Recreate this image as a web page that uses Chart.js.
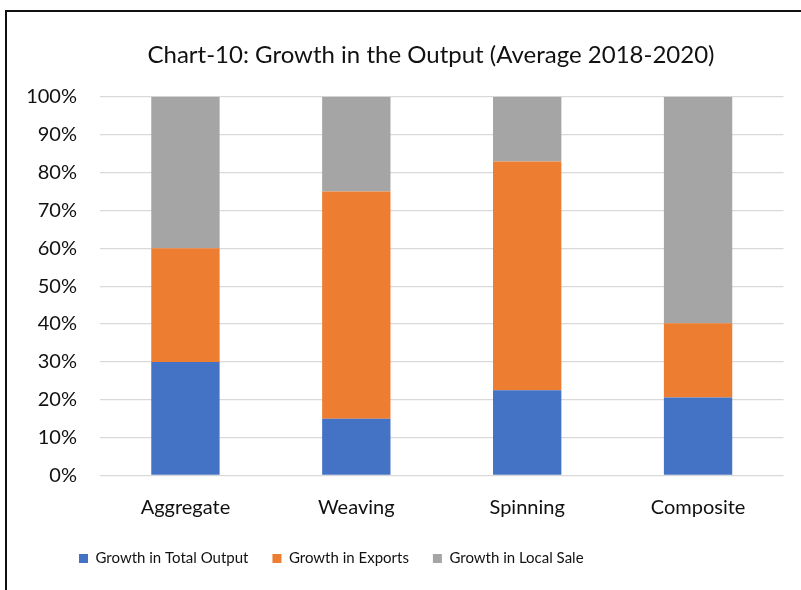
<!DOCTYPE html>
<html>
<head>
<meta charset="utf-8">
<script src="https://cdn.jsdelivr.net/npm/chart.js@4.4.0/dist/chart.umd.min.js"></script>
<style>
  html, body { margin: 0; padding: 0; background: #fff; overflow: hidden; }
  #frame {
    position: absolute; left: 5px; top: 10px; width: 900px; height: 700px;
    border-left: 2px solid #111; border-top: 2px solid #111;
  }
  #wrap { position: absolute; left: 0; top: 0; width: 862px; height: 590px; }
</style>
</head>
<body>
<div id="frame"></div>
<div id="wrap"><canvas id="chart" width="862" height="590"></canvas></div>
<script>
// Chart data (shares of each sector, %)
const categories = ['Aggregate', 'Weaving', 'Spinning', 'Composite'];
const totalOutput = [30, 15, 22.5, 20.6];
const exportsGrowth = [30, 60, 60.4, 19.6];
const localSale = [40, 25, 17.1, 59.8];
const yTicks = [0, 10, 20, 30, 40, 50, 60, 70, 80, 90, 100];

const textColor = '#111';
const font = 'Lato, "Open Sans", sans-serif';

// legend starts further right than the plot's left edge, like the original
const legendShift = {
    id: 'legendShift',
    afterLayout(chart) {
        chart.legend.left = 55;
    }
};

const ctx = document.getElementById('chart').getContext('2d');
new Chart(ctx, {
    type: 'bar',
    data: {
        labels: categories,
        datasets: [
            { label: 'Growth in Total Output', data: totalOutput, backgroundColor: '#4472C4' },
            { label: 'Growth in Exports', data: exportsGrowth, backgroundColor: '#ED7D31' },
            { label: 'Growth in Local Sale', data: localSale, backgroundColor: '#A5A5A5' }
        ]
    },
    plugins: [legendShift],
    options: {
        responsive: false,
        animation: false,
        devicePixelRatio: 1,
        layout: { padding: { left: 0, right: 0, top: 0, bottom: 14 } },
        datasets: { bar: { barPercentage: 0.4, categoryPercentage: 1.0 } },
        scales: {
            x: {
                stacked: true,
                grid: { display: false, drawTicks: false },
                border: { display: false },
                ticks: { color: textColor, font: { family: font, size: 20 }, padding: 20 },
                afterFit: scale => { scale.height = 51.5; }
            },
            y: {
                stacked: true,
                min: 0,
                max: 100,
                afterBuildTicks: scale => { scale.ticks = yTicks.map(v => ({ value: v })); },
                grid: { color: '#d9d9d9', lineWidth: 1.3, drawTicks: false },
                border: { display: false },
                ticks: {
                    color: textColor,
                    font: { family: font, size: 20 },
                    padding: 23,
                    callback: v => v + '%'
                },
                afterFit: scale => { scale.width = 100; }
            },
            spacer: {
                position: 'right',
                display: true,
                grid: { display: false },
                border: { display: false },
                ticks: { display: false },
                afterFit: scale => { scale.width = 78.5; }
            }
        },
        plugins: {
            title: {
                display: true,
                text: 'Chart-10: Growth in the Output (Average 2018-2020)',
                color: textColor,
                font: { family: font, size: 24, weight: 'normal' },
                padding: { top: 41, bottom: 27 }
            },
            legend: {
                position: 'bottom',
                align: 'start',
                labels: {
                    color: textColor,
                    font: { family: font, size: 15 },
                    boxWidth: 9,
                    boxHeight: 9,
                    padding: 24
                }
            },
            tooltip: { enabled: false }
        }
    }
});
</script>
</body>
</html>
